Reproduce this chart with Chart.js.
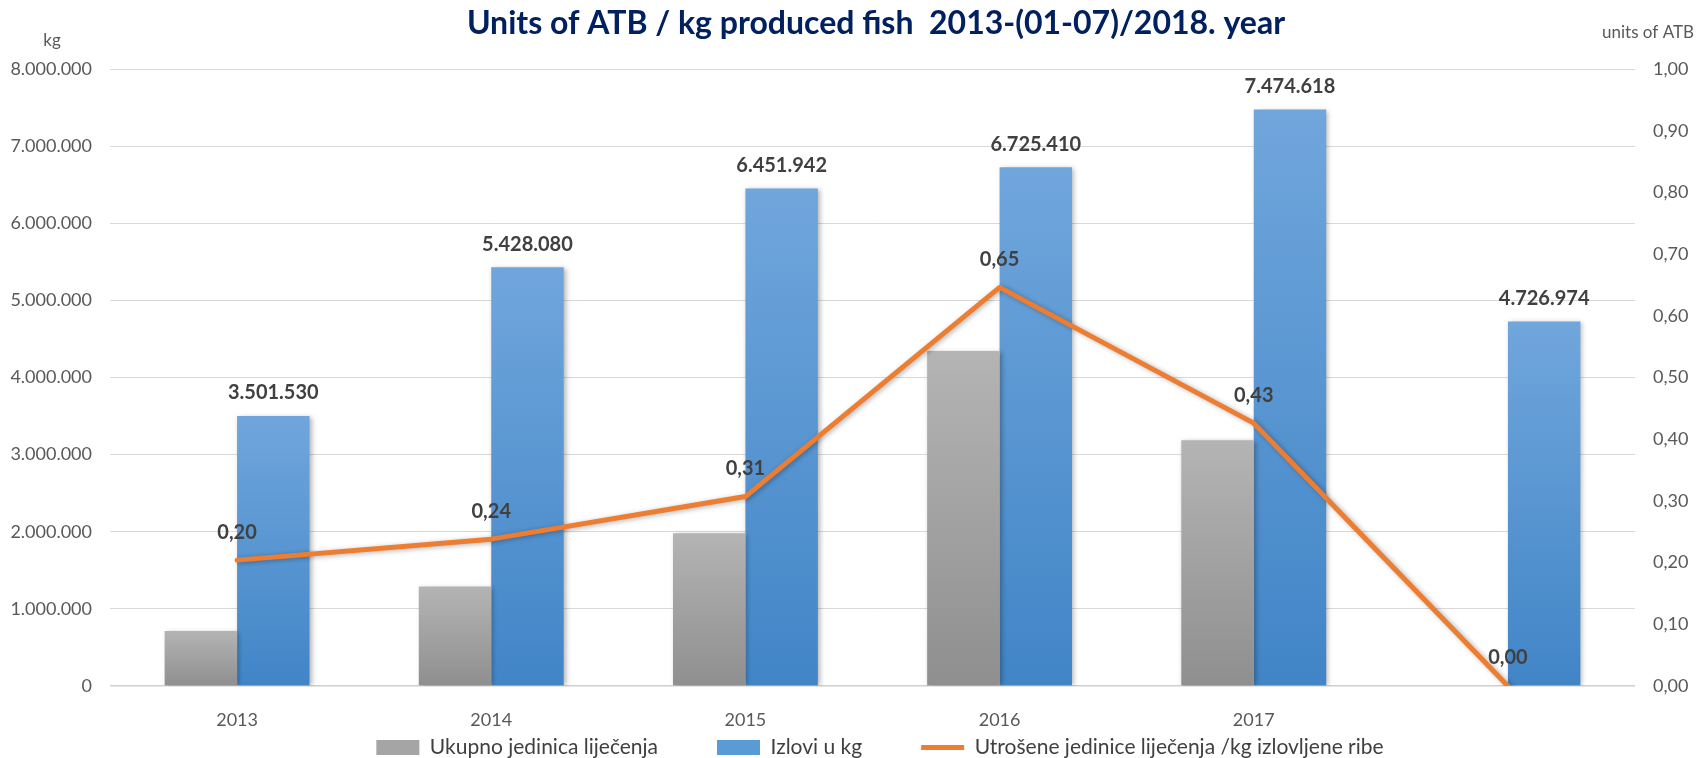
<!DOCTYPE html>
<html>
<head>
<meta charset="utf-8">
<title>Units of ATB / kg produced fish</title>
<script src="https://cdn.jsdelivr.net/npm/chart.js@4.4.1/dist/chart.umd.min.js"></script>
<style>
  html, body { margin: 0; padding: 0; background: #fff; }
  #wrap { width: 1700px; height: 758px; }
</style>
</head>
<body>
<div id="wrap"><canvas id="atbChart" width="1700" height="758"></canvas></div>
<script>
// values
const years = ['2013', '2014', '2015', '2016', '2017', ''];
const treatmentUnits = [713000, 1290000, 1980000, 4345000, 3185000, 0];
const catchKg = [3501530, 5428080, 6451942, 6725410, 7474618, 4726974];
const unitsPerKg = [0.204, 0.238, 0.307, 0.646, 0.426, 0];

const kgTickLabels = ['0', '1.000.000', '2.000.000', '3.000.000', '4.000.000',
    '5.000.000', '6.000.000', '7.000.000', '8.000.000'];
const atbTickLabels = ['0,00', '0,10', '0,20', '0,30', '0,40', '0,50',
    '0,60', '0,70', '0,80', '0,90', '1,00'];

const titleText = 'Units of ATB / kg produced fish  2013-(01-07)/2018. year';
const legendColors = ['#a5a5a5', '#5b9bd5', '#ed7d31'];

function formatKg(n) {
    return String(n).replace(/\B(?=(\d{3})+(?!\d))/g, '.');
}
function formatRatio(v) {
    return v.toFixed(2).replace('.', ',');
}

// vertical gradient per bar, like the Excel fill
function barGradient(top, bottom) {
    return function (context) {
        const chart = context.chart;
        if (!chart.chartArea || !context.parsed) return bottom;
        const y = chart.scales.y;
        const g = chart.ctx.createLinearGradient(0, y.getPixelForValue(context.parsed.y), 0, y.getPixelForValue(0));
        g.addColorStop(0, top);
        g.addColorStop(1, bottom);
        return g;
    };
}

const shadowPlugin = {
    id: 'shadow',
    beforeDatasetDraw(chart) {
        const c = chart.ctx;
        c.save();
        c.shadowColor = 'rgba(0, 0, 0, 0.3)';
        c.shadowBlur = 5;
        c.shadowOffsetX = 2;
        c.shadowOffsetY = 1;
    },
    afterDatasetDraw(chart) {
        chart.ctx.restore();
    }
};

// legend uses wide item spacing, pull it back up under the year labels
const legendNudge = {
    id: 'legendNudge',
    afterLayout(chart) {
        const lg = chart.legend;
        lg.top -= 68;
        lg.bottom -= 68;
        lg.left += 30;
        lg.right += 30;
    }
};

const textPlugin = {
    id: 'texts',
    afterDatasetsDraw(chart) {
        const c = chart.ctx;
        c.save();
        c.textAlign = 'center';
        c.textBaseline = 'middle';
        c.fillStyle = '#404040';
        c.font = 'bold 20px Lato';
        chart.getDatasetMeta(1).data.forEach((bar, i) => {
            c.fillText(formatKg(catchKg[i]), bar.x, bar.y - 23);
        });
        chart.getDatasetMeta(2).data.forEach((pt, i) => {
            c.fillText(formatRatio(unitsPerKg[i]), pt.x, pt.y - 28);
        });

        c.fillStyle = '#002060';
        c.font = 'bold 32px Lato';
        c.fillText(titleText, 876, 24);

        c.fillStyle = '#595959';
        c.font = '17px Lato';
        c.fillText('kg', 52, 41);
        c.fillText('units of ATB', 1648, 33);
        c.restore();
    }
};

const ctx = document.getElementById('atbChart').getContext('2d');
const chart = new Chart(ctx, {
    type: 'bar',
    data: {
        labels: years,
        datasets: [{
            label: 'Ukupno jedinica liječenja',
            data: treatmentUnits,
            backgroundColor: barGradient('#b4b4b4', '#8f8f8f'),
            yAxisID: 'y',
            order: 1,
            categoryPercentage: 0.57,
            barPercentage: 1.0
        }, {
            label: 'Izlovi u kg',
            data: catchKg,
            backgroundColor: barGradient('#70a6dc', '#4185c7'),
            yAxisID: 'y',
            order: 1,
            categoryPercentage: 0.57,
            barPercentage: 1.0
        }, {
            type: 'line',
            label: 'Utrošene jedinice liječenja /kg izlovljene ribe',
            data: unitsPerKg,
            borderColor: '#ed7d31',
            borderWidth: 5,
            borderJoinStyle: 'round',
            borderCapStyle: 'round',
            pointRadius: 0,
            pointStyle: 'line',
            tension: 0,
            yAxisID: 'y1',
            order: 0
        }]
    },
    options: {
        responsive: false,
        animation: false,
        layout: { padding: { top: 69, left: 0, right: 0, bottom: -78 } },
        plugins: {
            tooltip: { enabled: false },
            title: { display: false },
            legend: {
                position: 'bottom',
                labels: {
                    usePointStyle: true,
                    pointStyleWidth: 43,
                    boxHeight: 15,
                    padding: 59,
                    color: '#404040',
                    font: { family: 'Lato', size: 21 },
                    generateLabels: chart => chart.data.datasets.map((ds, i) => ({
                        text: ds.label,
                        datasetIndex: i,
                        fillStyle: legendColors[i],
                        strokeStyle: legendColors[i],
                        lineWidth: i === 2 ? 5 : 0,
                        pointStyle: i === 2 ? 'line' : 'rect',
                        hidden: !chart.isDatasetVisible(i),
                        fontColor: '#404040'
                    }))
                }
            }
        },
        scales: {
            x: {
                grid: { display: false },
                border: { display: false },
                ticks: { color: '#595959', font: { family: 'Lato', size: 18 }, padding: 15 },
                afterFit: s => { s.height = 60; }
            },
            y: {
                position: 'left',
                min: 0,
                max: 8000000,
                ticks: {
                    stepSize: 1000000,
                    callback: (v, i) => kgTickLabels[i],
                    color: '#595959',
                    font: { family: 'Lato', size: 18 },
                    padding: 18
                },
                grid: {
                    color: c => c.index === 0 ? '#cfcfcf' : '#d9d9d9',
                    lineWidth: c => c.index === 0 ? 1.5 : 1,
                    drawTicks: false
                },
                border: { display: false },
                afterFit: s => { s.width = 110; }
            },
            y1: {
                position: 'right',
                min: 0,
                max: 1,
                ticks: {
                    stepSize: 0.1,
                    callback: (v, i) => atbTickLabels[i],
                    color: '#595959',
                    font: { family: 'Lato', size: 18 },
                    padding: 18
                },
                grid: { display: false, drawTicks: false },
                border: { display: false },
                afterFit: s => { s.width = 65; }
            }
        }
    },
    plugins: [shadowPlugin, legendNudge, textPlugin]
});
</script>
</body>
</html>
